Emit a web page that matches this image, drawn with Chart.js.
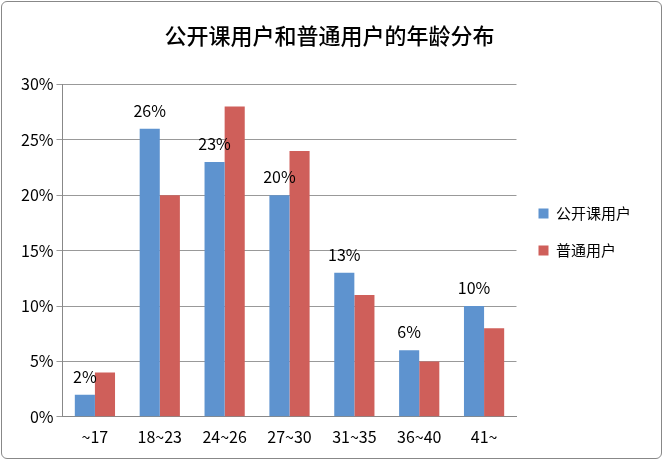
<!DOCTYPE html>
<html><head><meta charset="utf-8">
<script src="https://cdn.jsdelivr.net/npm/chart.js@4"></script>
<style>
html,body{margin:0;padding:0;background:#fff;}
#wrap{position:absolute;left:1px;top:1px;width:661px;height:458px;border:1px solid #888;border-radius:6px;box-sizing:border-box;}
canvas{display:block;}
</style></head><body>
<div id="wrap"><canvas id="c" width="659" height="456"></canvas></div>
<script>
const categories = ["~17","18~23","24~26","27~30","31~35","36~40","41~"];
const openCourseUsers = [2,26,23,20,13,6,10];
const regularUsers = [4,20,28,24,11,5,8];
const seriesNames = ["公开课用户","普通用户"];
const FONT = "'Noto Sans CJK SC','Noto Sans',sans-serif";

const labelPlugin = {
  id:'lbl',
  afterDatasetsDraw(chart){
    const ctx = chart.ctx;
    const meta = chart.getDatasetMeta(0);
    ctx.save();
    ctx.font = "16px " + FONT;
    ctx.fillStyle = "#000";
    ctx.textAlign = "center";
    ctx.textBaseline = "bottom";
    meta.data.forEach((b,i)=>{
      ctx.fillText(openCourseUsers[i]+"%", b.x, b.y-10);
    });
    ctx.restore();
  }
};

new Chart(document.getElementById('c'),{
  type:'bar',
  data:{labels:categories,datasets:[
    {label:seriesNames[0],data:openCourseUsers,backgroundColor:'#5E93CF',categoryPercentage:0.62,barPercentage:1},
    {label:seriesNames[1],data:regularUsers,backgroundColor:'#CF5F5A',categoryPercentage:0.62,barPercentage:1}
  ]},
  options:{
    responsive:false,animation:false,
    layout:{padding:{left:16,right:20,top:12,bottom:8}},
    plugins:{
      title:{display:true,text:"公开课用户和普通用户的年龄分布",font:{family:FONT,size:22,weight:'500'},color:'#000',padding:{top:8,bottom:36}},
      legend:{position:'right',align:'center',labels:{boxWidth:10,boxHeight:10,font:{family:FONT,size:15},color:'#000',padding:22}},
      tooltip:{enabled:false}
    },
    scales:{
      x:{grid:{display:false},border:{color:'#888'},ticks:{font:{family:FONT,size:16},color:'#000'}},
      y:{min:0,max:30,ticks:{stepSize:5,callback:v=>v+"%",font:{family:FONT,size:16},color:'#000'},grid:{color:'#999',drawTicks:true,tickLength:6},border:{color:'#888'}}
    }
  },
  plugins:[labelPlugin]
});
</script></body></html>
